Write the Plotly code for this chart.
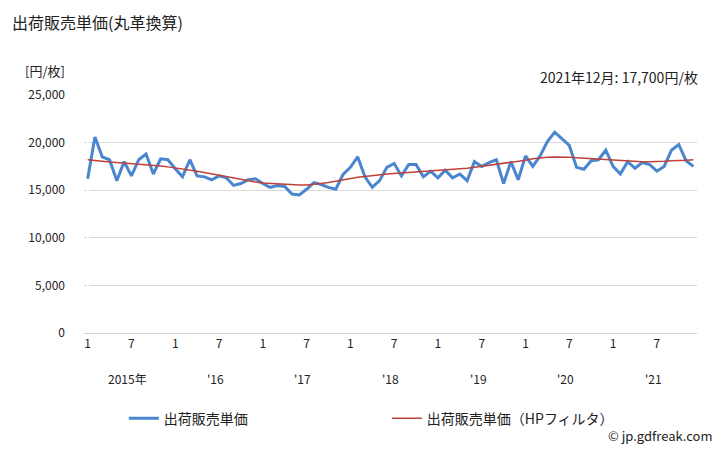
import plotly.graph_objects as go

price = [16200, 20600, 18500, 18200, 16000, 18000, 16500, 18200, 18800, 16700, 18300, 18200,
         17250, 16400, 18200, 16500, 16400, 16100, 16500, 16300, 15500, 15700, 16100, 16200,
         15700, 15300, 15500, 15400, 14600, 14500, 15100, 15800, 15600, 15300, 15100, 16650,
         17400, 18500, 16400, 15300, 16000, 17400, 17800, 16500, 17700, 17700, 16400, 17000,
         16300, 17100, 16300, 16700, 16000, 18000, 17500, 17900, 18200, 15700, 18000, 16100,
         18600, 17500, 18600, 20100, 21100, 20400, 19700, 17400, 17200, 18100, 18200, 19200,
         17500, 16700, 18000, 17300, 17900, 17700, 17000, 17500, 19200, 19800, 18100, 17500]
trend = [18200, 18100, 18000, 17950, 17900, 17850, 17800, 17750, 17700, 17650, 17550, 17450,
         17350, 17250, 17100, 17000, 16850, 16700, 16550, 16400, 16250, 16100, 15950, 15850,
         15750, 15700, 15650, 15600, 15550, 15550, 15550, 15600, 15700, 15800, 15950, 16100,
         16250, 16350, 16450, 16550, 16650, 16700, 16750, 16800, 16850, 16900, 16950, 17000,
         17050, 17100, 17150, 17200, 17300, 17400, 17500, 17600, 17700, 17800, 17900, 18000,
         18150, 18300, 18400, 18450, 18500, 18500, 18450, 18400, 18350, 18300, 18250, 18200,
         18150, 18100, 18050, 18000, 18000, 18000, 18000, 18050, 18100, 18100, 18150, 18200]
years = ["2015年", "'16", "'17", "'18", "'19", "'20", "'21"]

x = list(range(len(price)))
tickvals = [i for i in x if i % 6 == 0]
ticktext = ["1" if i % 12 == 0 else "7" for i in tickvals]

font = "Noto Sans CJK JP"
fig = go.Figure()
fig.add_trace(go.Scatter(x=x, y=price, mode="lines", name="出荷販売単価",
                         line=dict(color="#4a86d0", width=3)))
fig.add_trace(go.Scatter(x=x, y=trend, mode="lines", name="出荷販売単価（HPフィルタ）",
                         line=dict(color="#c0403a", width=1.5)))

ann = [
    dict(text="出荷販売単価(丸革換算)", x=-0.12, y=1.305, xref="paper", yref="paper", xanchor="left", yanchor="middle",
         showarrow=False, font=dict(size=16)),
    dict(text="[円/枚]", x=-0.1, y=1.105, xref="paper", yref="paper", xanchor="left", yanchor="middle",
         showarrow=False, font=dict(size=13)),
    dict(text="2021年12月: 17,700円/枚", x=1.005, y=1.074, xref="paper", yref="paper", xanchor="right", yanchor="middle",
         showarrow=False, font=dict(size=14)),
    dict(text="© jp.gdfreak.com", x=1.03, y=-0.43, xref="paper", yref="paper", xanchor="right", yanchor="middle",
         showarrow=False, font=dict(size=13)),
]
for k, yr in enumerate(years):
    ann.append(dict(text=yr, x=k * 12 + 5.5, y=-0.235, xref="x", yref="paper", showarrow=False,
                    font=dict(size=12)))

fig.update_layout(
    width=728, height=450,
    margin=dict(l=76, r=39, t=87, b=125),
    paper_bgcolor="white", plot_bgcolor="white",
    font=dict(family=font, size=12, color="#222"),
    xaxis=dict(tickvals=tickvals, ticktext=ticktext, range=[-0.5, 83.5], showgrid=False, automargin=False,
               showline=True, linecolor="#d0d0d0", ticks="", tickfont=dict(size=12)),
    yaxis=dict(range=[0, 25000], dtick=5000, tickformat=",", gridcolor="#d9d9d9", automargin=False,
               zeroline=False, ticks="", tickfont=dict(size=12), ticklabelstandoff=18),
    legend=dict(orientation="h", x=0.065, xanchor="left", y=-0.36, yanchor="middle",
                font=dict(size=14), entrywidth=218),
    annotations=ann,
)
fig.write_html("out.html")
